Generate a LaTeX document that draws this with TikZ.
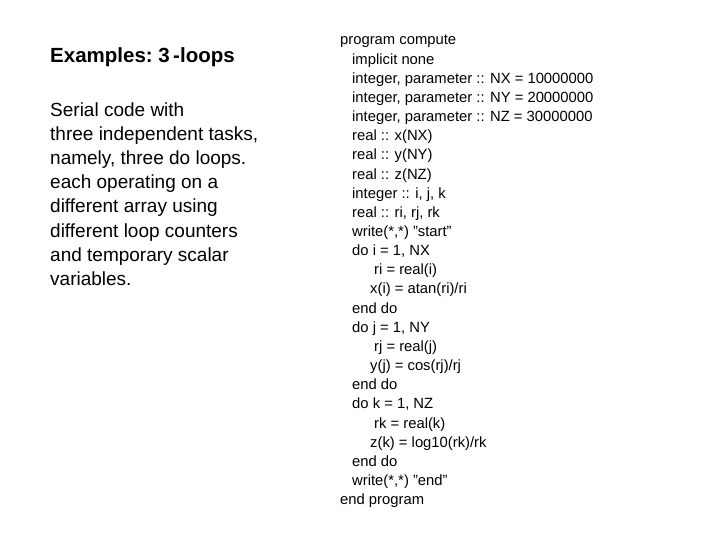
\documentclass[tikz,border=0pt]{standalone}
\usepackage{fontspec}
\setmainfont{Liberation Sans}
\def\q{\char34\relax}
\begin{document}
\begin{tikzpicture}[x=1pt,y=-1pt,
  code/.style={anchor=base west,inner sep=0pt,font=\fontsize{14.8}{17}\selectfont},
  body/.style={anchor=base west,inner sep=0pt,font=\fontsize{19}{24}\selectfont}]
\useasboundingbox (0,0) rectangle (720,540);
\node[anchor=base west,inner sep=0pt,font=\fontsize{20.5}{24}\selectfont\bfseries] (title) at (50,63) {Examples:\ 3\,-loops};
\foreach \t [count=\i] in {Serial code with,{three independent tasks,},{namely, three do loops.},each operating on a,different array using,different loop counters,and temporary scalar,variables.}
  \node[body] (b\i) at (50,{117+24*(\i-1)}) {\t};
\def\L{19.15}
\foreach \t/\x [count=\i] in {program compute/340,implicit none/352,{integer, parameter :: NX = 10000000}/352,{integer, parameter :: NY = 20000000}/352,{integer, parameter :: NZ = 30000000}/352,real :: x(NX)/352,real :: y(NY)/352,real :: z(NZ)/352,{integer :: i, j, k}/352,{real :: ri, rj, rk}/352,{write(*,*) \q start\q}/352,{do i = 1, NX}/352,ri = real(i)/374,{x(i) = atan(ri)/ri}/370,end do/352,{do j = 1, NY}/352,rj = real(j)/374,{y(j) = cos(rj)/rj}/370,end do/352,{do k = 1, NZ}/352,rk = real(k)/374,{z(k) = log10(rk)/rk}/370,end do/352,{write(*,*) \q end\q}/352,end program/340}
  \node[code] (c\i) at (\x,{45+\L*(\i-1)}) {\t};
\end{tikzpicture}
\end{document}
